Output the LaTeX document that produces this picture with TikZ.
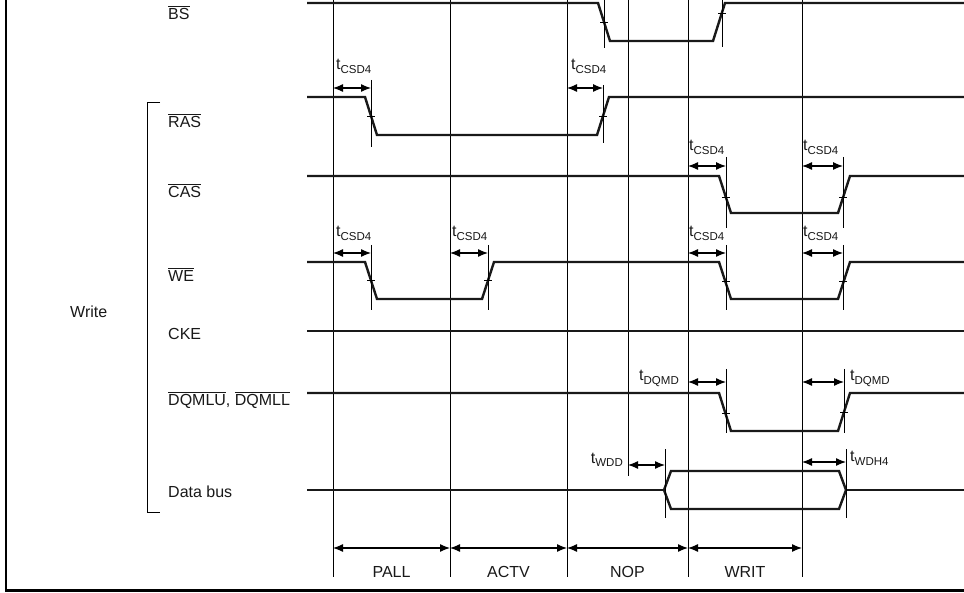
\documentclass[tikz,border=0pt]{standalone}
\usepackage{fontspec}
\setmainfont{Liberation Sans}
\usepackage{tikz}
\usetikzlibrary{arrows.meta}

\newcommand{\tsub}[1]{t\raisebox{-4pt}{\fontsize{11.5}{12}\selectfont #1}}
\newcommand{\ovl}[1]{\leavevmode\vbox{\hrule height 0.6pt\kern 2.2pt\hbox{#1}}}
\newcommand{\edgetick}[4]{\draw[reftick] (#1,#3) -- (#1,#4) ({#1-4},#2) -- ({#1+4},#2);}

\begin{document}
\begin{tikzpicture}[
  x=1pt, y=-1pt,
  font=\fontsize{16}{19}\selectfont,
  wave/.style={line width=2.4pt, line join=miter, color=black!90},
  bus/.style={line width=1.5pt, color=black!90},
  grid/.style={line width=0.9pt},
  reftick/.style={line width=0.9pt},
  dim/.style={{Latex[length=10pt,width=8pt]}-{Latex[length=10pt,width=8pt]}, line width=1.2pt},
  sig/.style={anchor=base west, inner sep=0pt, text=black!90},
  tlab/.style={inner sep=0pt, text=black!90}
]
  \useasboundingbox[fill=white] (0,0) rectangle (964,593);

  \draw[line width=2.2pt] (6,0) -- (6,590.5) -- (964,590.5);
  \draw[line width=1pt] (160,103) -- (147,103) -- (147,512) -- (160,512);

  \node[sig] (write) at (70,318) {Write};
  \node[sig] (bs) at (168,20) {\ovl{BS}};
  \node[sig] (ras) at (168,128) {\ovl{RAS}};
  \node[sig] (cas) at (168,198) {\ovl{CAS}};
  \node[sig] (we) at (168,282) {\ovl{WE}};
  \node[sig] (cke) at (168,340) {CKE};
  \node[sig] (dqm) at (168,406) {\ovl{DQMLU}, \ovl{DQMLL}};
  \node[sig] (databus) at (168,497) {Data bus};

  \foreach \gx in {333,450,567,688,802}
    \draw[grid] (\gx,0) -- (\gx,577);
  \draw[grid] (628,0) -- (628,476);

  \draw[wave] (307,3) -- (598,3) -- (610,41) -- (713,41) -- (725,3) -- (964,3);
  \edgetick{604}{22}{0}{48}
  \edgetick{722}{13}{0}{47}

  \draw[wave] (307,97) -- (365,97) -- (377,135) -- (597,135) -- (609,97) -- (964,97);
  \edgetick{371}{116}{80}{147}
  \edgetick{603}{116}{85}{143}

  \draw[wave] (307,176) -- (719,176) -- (731,213) -- (838,213) -- (850,176) -- (964,176);
  \edgetick{726}{197}{157}{228}
  \edgetick{843}{197}{157}{228}

  \draw[wave] (307,262) -- (365,262) -- (377,299) -- (482,299) -- (494,262) -- (719,262)
    -- (731,299) -- (838,299) -- (850,262) -- (964,262);
  \edgetick{371}{280}{245}{310}
  \edgetick{488}{280}{245}{310}
  \edgetick{726}{281}{245}{310}
  \edgetick{843}{281}{245}{310}

  \draw[wave] (307,331) -- (964,331);

  \draw[wave] (307,393) -- (719,393) -- (731,431) -- (838,431) -- (850,393) -- (964,393);
  \edgetick{726}{413}{369}{433}
  \edgetick{844}{412}{369}{433}

  \draw[bus] (307,490) -- (664,490) (846,490) -- (964,490);
  \draw[wave] (664,490) -- (671,471) -- (839,471) -- (846,490) -- (839,509) -- (671,509) -- cycle;
  \draw[reftick] (665,449) -- (665,518) (846,449) -- (846,518);

  \draw[dim] (333,88) -- (371,88);
  \draw[dim] (567,88) -- (603,88);
  \draw[dim] (688,166) -- (726,166);
  \draw[dim] (802,166) -- (843,166);
  \draw[dim] (333,253) -- (371,253);
  \draw[dim] (450,253) -- (488,253);
  \draw[dim] (688,253) -- (726,253);
  \draw[dim] (802,253) -- (843,253);
  \draw[dim] (688,382) -- (726,382);
  \draw[dim] (802,382) -- (844,382);
  \draw[dim] (628,465) -- (665,465);
  \draw[dim] (802,462) -- (846,462);

  \node[tlab, anchor=base west] (csdA) at (336,70) {\tsub{CSD4}};
  \node[tlab, anchor=base west] (csdB) at (571,70) {\tsub{CSD4}};
  \node[tlab, anchor=base west] (csdC) at (689,151) {\tsub{CSD4}};
  \node[tlab, anchor=base west] (csdD) at (803,151) {\tsub{CSD4}};
  \node[tlab, anchor=base west] (csdE) at (336,237) {\tsub{CSD4}};
  \node[tlab, anchor=base west] (csdF) at (452,237) {\tsub{CSD4}};
  \node[tlab, anchor=base west] (csdG) at (689,237) {\tsub{CSD4}};
  \node[tlab, anchor=base west] (csdH) at (803,237) {\tsub{CSD4}};
  \node[tlab, anchor=base east] (dqmdA) at (679,381) {\tsub{DQMD}};
  \node[tlab, anchor=base west] (dqmdB) at (850,381) {\tsub{DQMD}};
  \node[tlab, anchor=base east] (wdd) at (623,463) {\tsub{WDD}};
  \node[tlab, anchor=base west] (wdh) at (850,461) {\tsub{WDH4}};

  \draw[dim] (333,548) -- (450,548);
  \draw[dim] (450,548) -- (567,548);
  \draw[dim] (567,548) -- (688,548);
  \draw[dim] (688,548) -- (802,548);
  \node[tlab, anchor=base] (pall) at (391.5,577) {PALL};
  \node[tlab, anchor=base] (actv) at (508.5,577) {ACTV};
  \node[tlab, anchor=base] (nop) at (627.5,577) {NOP};
  \node[tlab, anchor=base] (writ) at (745,577) {WRIT};
\end{tikzpicture}
\end{document}
